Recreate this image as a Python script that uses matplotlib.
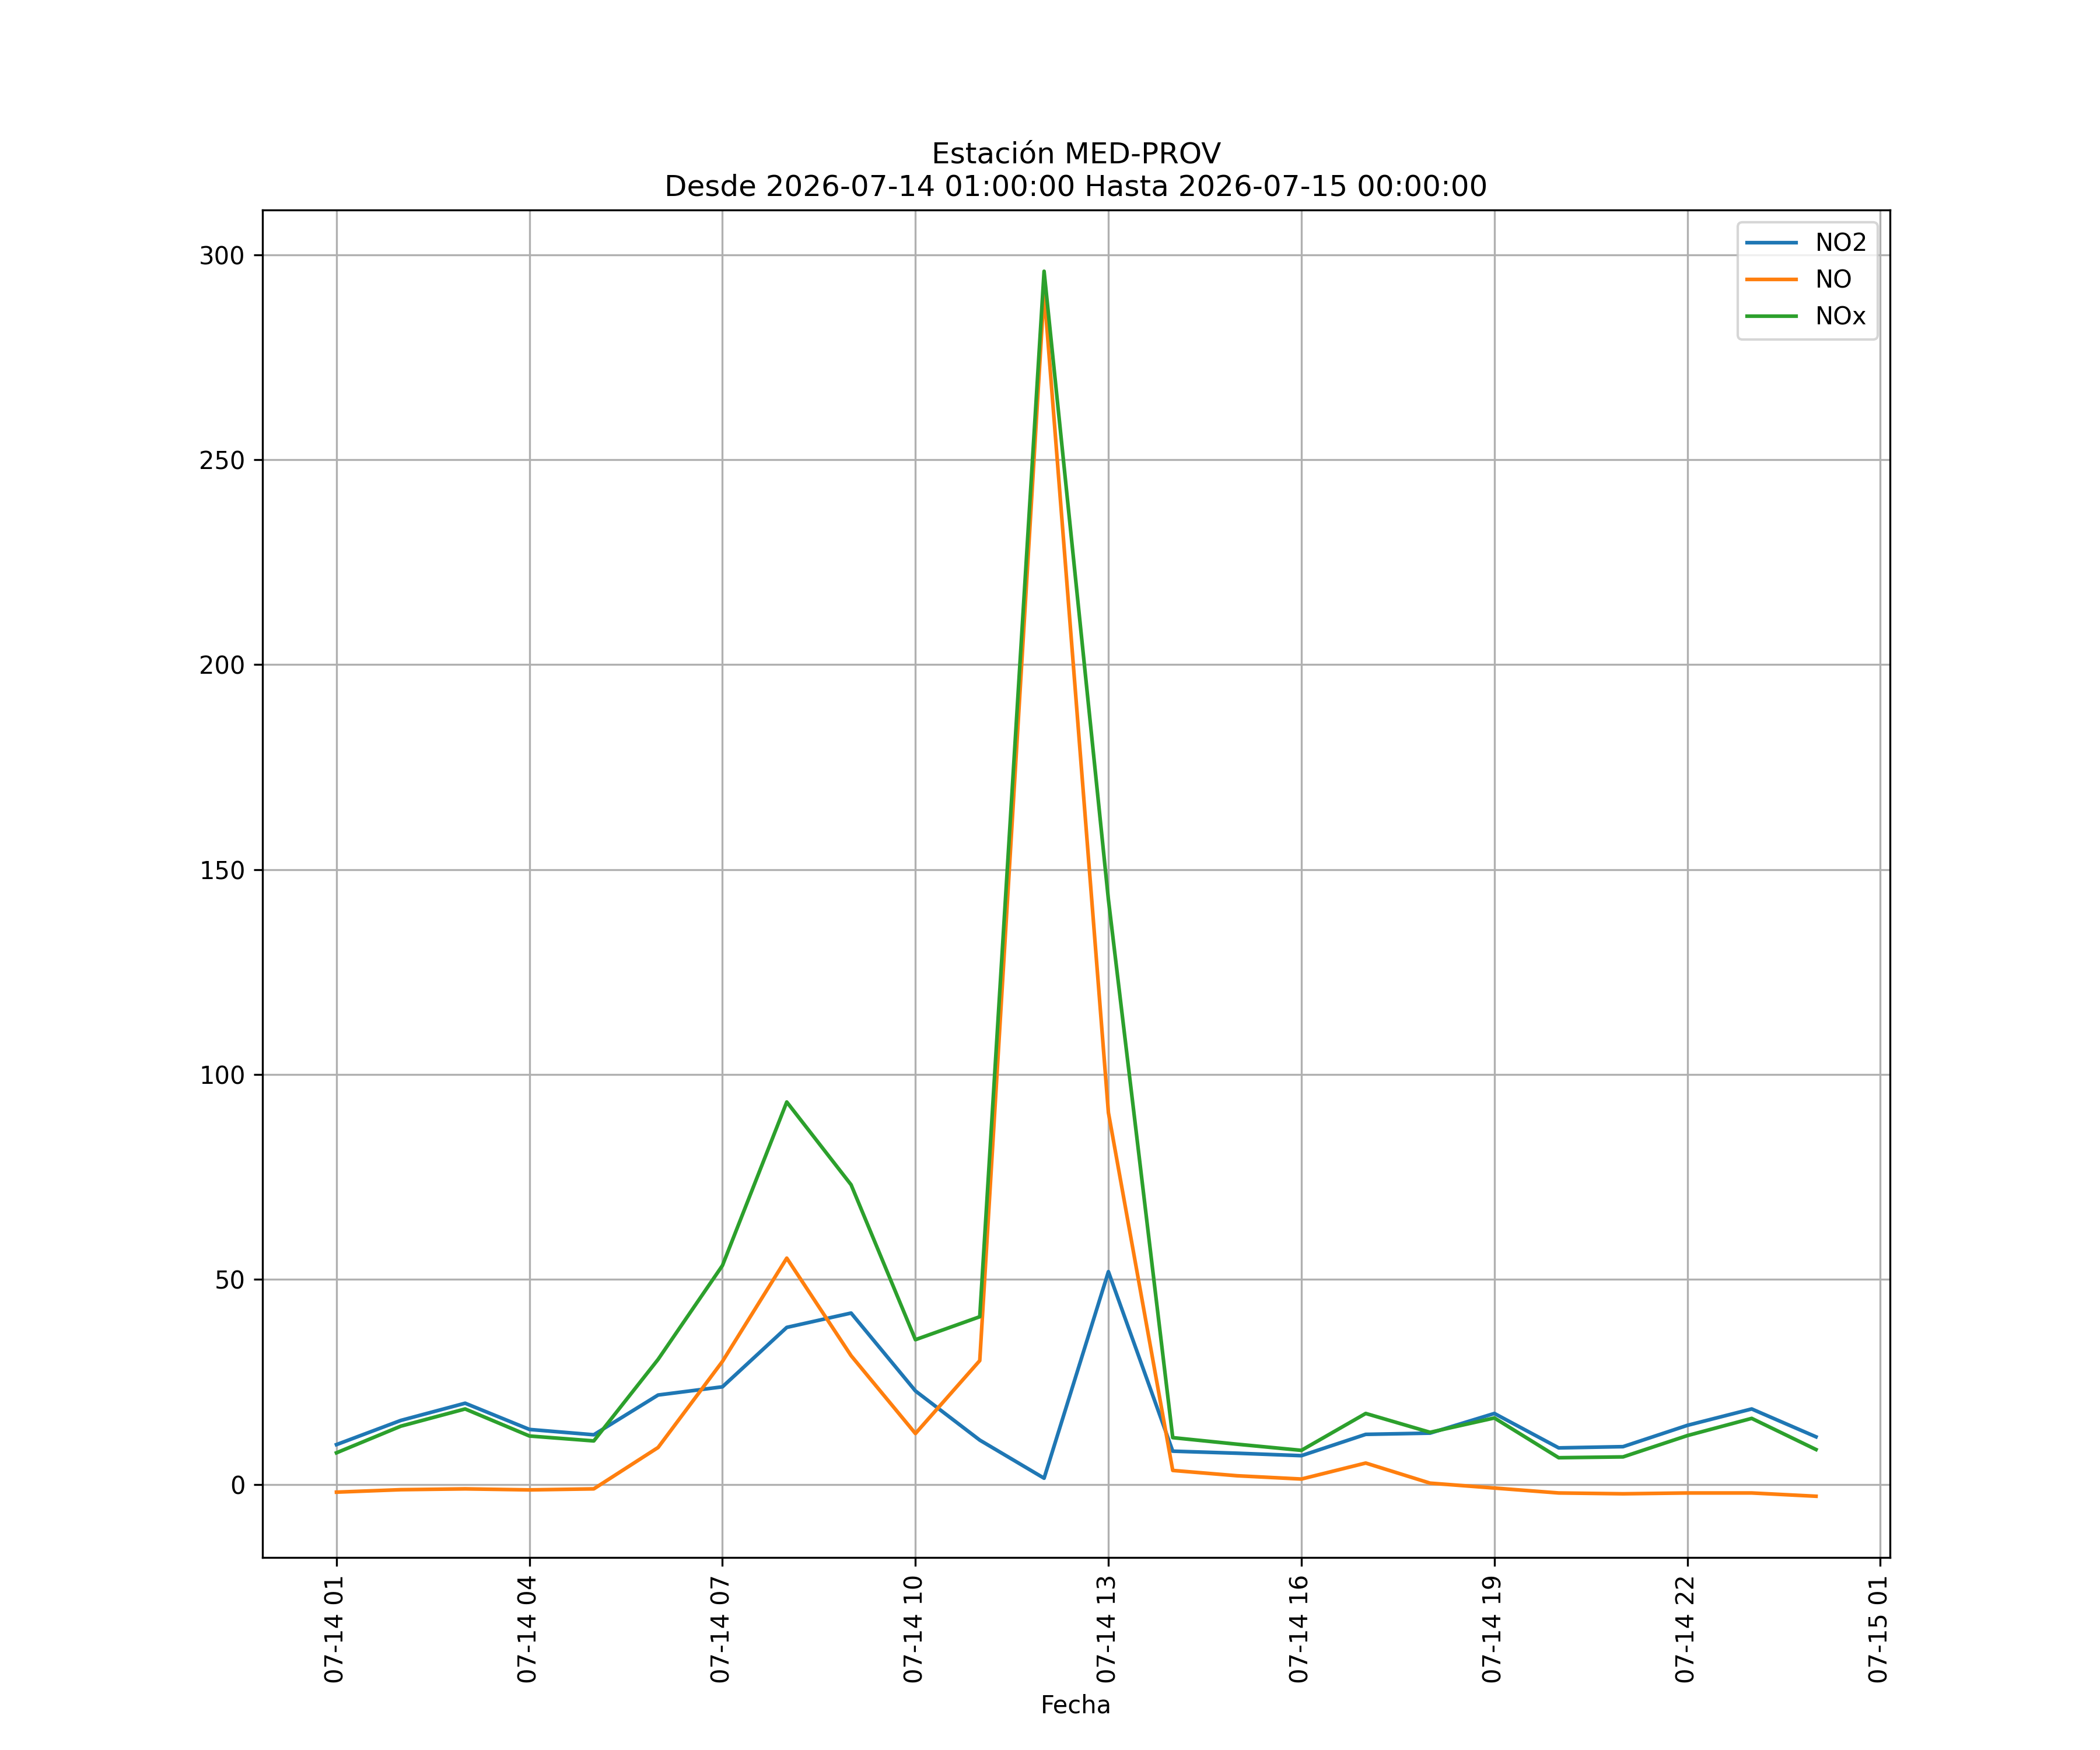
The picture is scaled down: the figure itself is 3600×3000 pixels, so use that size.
import numpy as np
import pandas as pd
import matplotlib
matplotlib.use('Agg')
import matplotlib.pyplot as plt
import matplotlib.dates as mdates

# hourly values, 2026-07-14 01:00 .. 2026-07-15 00:00
fechas = pd.date_range(start='2026-07-14 01:00:00', periods=24, freq='h')

no2 = [9.7, 15.6, 19.8, 13.4, 12.1, 21.8, 23.8, 38.3, 41.8, 22.8, 10.8, 1.5,
       51.9, 8.1, 7.6, 7.0, 12.2, 12.5, 17.3, 8.9, 9.2, 14.4, 18.4, 11.6]
no = [-1.9, -1.3, -1.1, -1.35, -1.1, 9.0, 30.0, 55.2, 31.4, 12.4, 30.2, 291.0,
      90.7, 3.4, 2.1, 1.3, 5.2, 0.3, -0.9, -2.1, -2.3, -2.1, -2.1, -2.9]
nox = [7.7, 14.2, 18.4, 11.8, 10.6, 30.5, 53.4, 93.3, 73.1, 35.3, 40.9, 296.0,
       142.7, 11.4, 9.8, 8.3, 17.3, 12.7, 16.2, 6.5, 6.7, 11.9, 16.1, 8.5]

df = pd.DataFrame({'NO2': no2, 'NO': no, 'NOx': nox}, index=fechas)

fig, ax = plt.subplots(figsize=(12, 10))

for col in df.columns:
    ax.plot(df.index, df[col], label=col)

ax.set_title('Estación MED-PROV\nDesde 2026-07-14 01:00:00 Hasta 2026-07-15 00:00:00')
ax.set_xlabel('Fecha')
ax.xaxis.set_major_locator(mdates.HourLocator(byhour=range(1, 24, 3)))
ax.xaxis.set_major_formatter(mdates.DateFormatter('%m-%d %H'))
plt.setp(ax.get_xticklabels(), rotation=90)
ax.grid(True)
ax.legend(loc='upper right')

plt.savefig('out.png', dpi=300)
